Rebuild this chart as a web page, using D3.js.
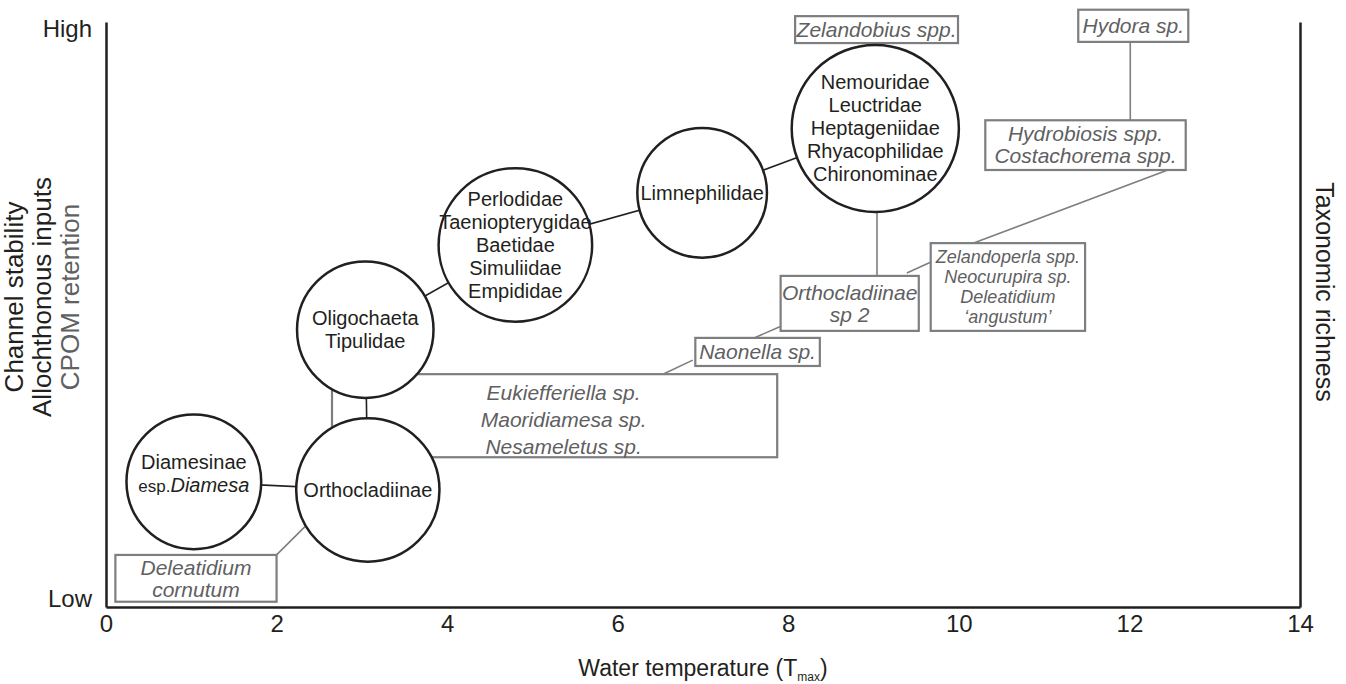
<!DOCTYPE html>
<html>
<head>
<meta charset="utf-8">
<script src="https://cdn.jsdelivr.net/npm/d3@7"></script>
<style>
  body { margin: 0; background: #fff; }
  svg text { font-family: "Liberation Sans", Arial, Helvetica, sans-serif; }
</style>
</head>
<body>
<svg id="vis" width="1346" height="684"></svg>
<script>
// axis values
const xTicks = [0, 2, 4, 6, 8, 10, 12, 14];
const yTicks = [0.14, 9.88];
const yTickLabels = ["Low", "High"];

// taxa groups (circles): temperature, level, radius in temperature units
const groupNames = ["Diamesinae", "Orthocladiinae", "Oligochaeta", "Perlodidae", "Limnephilidae", "Nemouridae"];
const groupTemp = [1.03, 3.07, 3.04, 4.80, 6.99, 9.02];
const groupLevel = [2.14, 2.0, 4.74, 6.19, 7.08, 8.18];
const groupSize = [0.79, 0.84, 0.80, 0.90, 0.76, 0.98];
const groupLabels = [
  ["Diamesinae", "esp.Diamesa"],
  ["Orthocladiinae"],
  ["Oligochaeta", "Tipulidae"],
  ["Perlodidae", "Taeniopterygidae", "Baetidae", "Simuliidae", "Empididae"],
  ["Limnephilidae"],
  ["Nemouridae", "Leuctridae", "Heptageniidae", "Rhyacophilidae", "Chironominae"]
];
// links between groups (index pairs)
const groupLinks = [[0, 1], [1, 2], [2, 3], [3, 4], [4, 5]];

// indicator taxa boxes: t0, t1, bottom level, top level
const boxLabels = [
  ["Zelandobius spp."],
  ["Hydora sp."],
  ["Hydrobiosis spp.", "Costachorema spp."],
  ["Zelandoperla spp.", "Neocurupira sp.", "Deleatidium", "\u2018angustum\u2019"],
  ["Orthocladiinae", "sp 2"],
  ["Naonella sp."],
  ["Eukiefferiella sp.", "Maoridiamesa sp.", "Nesameletus sp."],
  ["Deleatidium", "cornutum"]
];
const boxT0 = [8.08, 11.40, 10.31, 9.67, 7.91, 6.91, 2.65, 0.11];
const boxT1 = [9.99, 12.69, 12.66, 11.48, 9.53, 8.37, 7.87, 2.00];
const boxV0 = [9.64, 9.66, 7.47, 4.72, 4.72, 4.12, 2.56, 0.09];
const boxV1 = [10.10, 10.21, 8.32, 6.22, 5.66, 4.60, 3.98, 0.89];

// leader lines: [t1, v1, t2, v2]
const leaders = [
  [12.01, 9.66, 12.01, 8.32],
  [12.45, 7.47, 10.15, 6.21],
  [9.68, 5.90, 9.39, 5.71],
  [9.04, 6.84, 9.04, 5.66],
  [7.90, 4.79, 7.60, 4.60],
  [6.88, 4.22, 6.53, 3.98],
  [2.33, 1.37, 2.00, 0.89]
];

const ink = "#231f20";
const grey = "#5f6062";
const greyLine = "#7d7e80";

// label nudges (pixels)
const labelNudge = {
  "Diamesinae": [0, -8],
  "Eukiefferiella sp.": [9, 4]
};

const svg = d3.select("svg#vis");
const x = d3.scaleLinear().domain([0, 14]).range([106, 1300]);
const y = d3.scaleLinear().domain([0, 10]).range([607, 22]);
const rad = t => x(t) - x(0);

// axes
const xAxis = svg.append("g")
  .attr("transform", "translate(0," + y(0) + ")")
  .call(d3.axisBottom(x).tickValues(xTicks).tickSize(0).tickSizeOuter(0).tickPadding(8));
xAxis.select(".domain").attr("stroke", ink).attr("stroke-width", 2.5);
xAxis.selectAll("text").attr("fill", ink).style("font-size", "24px")
  .style("font-family", "'Liberation Sans', Arial, sans-serif");

const yAxis = svg.append("g")
  .attr("transform", "translate(" + x(0) + ",0)")
  .call(d3.axisLeft(y).tickValues(yTicks).tickFormat((d, i) => yTickLabels[i]).tickSize(0).tickSizeOuter(0).tickPadding(14));
yAxis.select(".domain").attr("stroke", ink).attr("stroke-width", 2.5);
yAxis.selectAll("text").attr("fill", ink).style("font-size", "24px")
  .style("font-family", "'Liberation Sans', Arial, sans-serif");

const yAxisR = svg.append("g")
  .attr("transform", "translate(" + x(14) + ",0)")
  .call(d3.axisRight(y).tickValues([]).tickSizeOuter(0));
yAxisR.select(".domain").attr("stroke", ink).attr("stroke-width", 2.5);

// axis titles
svg.append("text")
  .attr("x", x(7)).attr("y", 676)
  .attr("text-anchor", "middle").attr("fill", ink).style("font-size", "23px")
  .call(t => {
    t.append("tspan").text("Water temperature (T");
    t.append("tspan").attr("dy", 5).style("font-size", "12px").text("max");
    t.append("tspan").attr("dy", -5).text(")");
  });

const yTitle = [["Channel stability", ink], ["Allochthonous inputs", ink], ["CPOM retention", grey]];
svg.selectAll("text.ytitle")
  .data(yTitle)
  .enter()
  .append("text")
  .attr("class", "ytitle")
  .attr("transform", (d, i) => "translate(" + (23 + i * 28) + ",297) rotate(-90)")
  .attr("text-anchor", "middle")
  .attr("fill", d => d[1])
  .style("font-size", "26px")
  .text(d => d[0]);

svg.append("text")
  .attr("transform", "translate(1316,292) rotate(90)")
  .attr("text-anchor", "middle").attr("fill", ink).style("font-size", "25px")
  .text("Taxonomic richness");

// leader lines
svg.append("g").selectAll("line")
  .data(leaders)
  .enter()
  .append("line")
  .attr("x1", d => x(d[0])).attr("y1", d => y(d[1]))
  .attr("x2", d => x(d[2])).attr("y2", d => y(d[3]))
  .attr("stroke", greyLine).attr("stroke-width", 1.6);

// boxes
const boxes = boxLabels.map((lines, i) => ({
  lines: lines, t0: boxT0[i], t1: boxT1[i], v0: boxV0[i], v1: boxV1[i],
  fs: i === 3 ? 18 : 21,
  lh: i === 3 ? 20 : (i === 6 ? 27 : 22)
}));

svg.append("g").selectAll("rect")
  .data(boxes)
  .enter()
  .append("rect")
  .attr("x", d => x(d.t0)).attr("y", d => y(d.v1))
  .attr("width", d => x(d.t1) - x(d.t0))
  .attr("height", d => y(d.v0) - y(d.v1))
  .attr("fill", "#fff")
  .attr("stroke", greyLine).attr("stroke-width", 2.2);

// links between groups
svg.append("g").selectAll("line")
  .data(groupLinks)
  .enter()
  .append("line")
  .attr("x1", d => x(groupTemp[d[0]])).attr("y1", d => y(groupLevel[d[0]]))
  .attr("x2", d => x(groupTemp[d[1]])).attr("y2", d => y(groupLevel[d[1]]))
  .attr("stroke", ink).attr("stroke-width", 1.6);

// circles
const groups = groupNames.map((n, i) => ({
  name: n, t: groupTemp[i], v: groupLevel[i], size: groupSize[i], lines: groupLabels[i]
}));

svg.append("g").selectAll("circle")
  .data(groups)
  .enter()
  .append("circle")
  .attr("cx", d => x(d.t)).attr("cy", d => y(d.v))
  .attr("r", d => rad(d.size))
  .attr("fill", "#fff")
  .attr("stroke", ink).attr("stroke-width", 2.5);

// circle labels
const lh = 23;
svg.append("g").selectAll("text")
  .data(groups)
  .enter()
  .append("text")
  .attr("text-anchor", "middle")
  .attr("fill", ink)
  .style("font-size", "20px")
  .each(function(d) {
    const t = d3.select(this);
    const nudge = labelNudge[d.lines[0]] || [0, 0];
    const cx = x(d.t) + nudge[0], cy = y(d.v) + nudge[1];
    const top = cy - (d.lines.length - 1) * lh / 2;
    d.lines.forEach((line, j) => {
      const ts = t.append("tspan").attr("x", cx).attr("y", top + j * lh).attr("dy", "0.35em");
      if (line.startsWith("esp.")) {
        ts.append("tspan").style("font-size", "17px").text("esp.");
        ts.append("tspan").style("font-style", "italic").text(line.slice(4));
      } else {
        ts.text(line);
      }
    });
  });

// box labels
svg.append("g").selectAll("text")
  .data(boxes)
  .enter()
  .append("text")
  .attr("text-anchor", "middle")
  .attr("fill", grey)
  .style("font-style", "italic")
  .style("font-size", d => d.fs + "px")
  .each(function(d) {
    const t = d3.select(this);
    const nudge = labelNudge[d.lines[0]] || [0, 0];
    const cx = (x(d.t0) + x(d.t1)) / 2 + nudge[0], cy = (y(d.v0) + y(d.v1)) / 2 + nudge[1];
    const top = cy - (d.lines.length - 1) * d.lh / 2;
    d.lines.forEach((line, j) => {
      t.append("tspan").attr("x", cx).attr("y", top + j * d.lh).attr("dy", "0.35em").text(line);
    });
  });
</script>
</body>
</html>
